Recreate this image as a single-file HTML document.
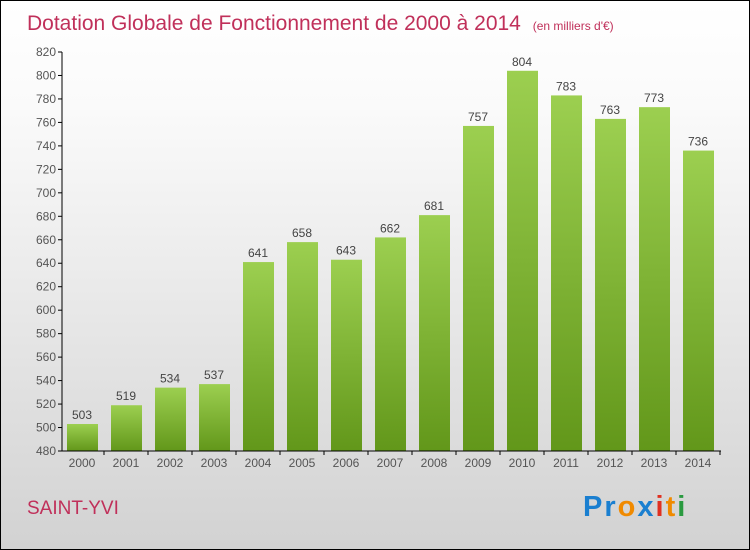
<!DOCTYPE html>
<html><head><meta charset="utf-8"><style>
body{margin:0}
#c{width:748px;height:548px;border:1px solid #000;background:linear-gradient(#fff,#fafafa 20%,#d2d2d2);position:relative;font-family:"Liberation Sans",sans-serif;overflow:hidden}
</style></head><body>
<div id="c">
<svg width="748" height="548" xmlns="http://www.w3.org/2000/svg" id="s">
<defs><linearGradient id="g" x1="0" y1="0" x2="0" y2="1"><stop offset="0" stop-color="#9ccf50"/><stop offset="1" stop-color="#62971a"/></linearGradient></defs>
<text x="26" y="29" font-size="21" fill="#c0305a">Dotation Globale de Fonctionnement de 2000 à 2014 <tspan font-size="12" dx="6">(en milliers d'€)</tspan></text>
<text x="26" y="513" font-size="19" fill="#c0305a">SAINT-YVI</text>
<g font-size="29" font-weight="bold" letter-spacing="2">
<text x="582" y="515"><tspan fill="#1a7fd0">Pr</tspan><tspan fill="#f08a00">o</tspan><tspan fill="#1a7fd0">x</tspan><tspan fill="#e03020">i</tspan><tspan fill="#f08a00">t</tspan><tspan fill="#2a9a40">i</tspan></text>
</g>
<g id="plot"></g>
</svg>
</div>
<script>
const years=["2000","2001","2002","2003","2004","2005","2006","2007","2008","2009","2010","2011","2012","2013","2014"];
const values=[503,519,534,537,641,658,643,662,681,757,804,783,763,773,736];
const yTicks=[480,500,520,540,560,580,600,620,640,660,680,700,720,740,760,780,800,820];
const NS="http://www.w3.org/2000/svg";
const g=document.getElementById('plot');
const y=v=>450-(v-480)*(399/340);
const x=i=>81+44*i;
function mk(t,a){const e=document.createElementNS(NS,t);for(const k in a)e.setAttribute(k,a[k]);g.appendChild(e);return e;}
yTicks.forEach(t=>{
 const l=mk('line',{x1:57,x2:61,y1:y(t),y2:y(t),stroke:'#000'});
 
 
 const tx=mk('text',{x:55,y:y(t)+4,'text-anchor':'end','font-size':12,fill:'#555'});tx.textContent=t;
 
 
});
values.forEach((v,i)=>{
 const r=mk('rect',{x:x(i)-15,y:y(v),width:31,height:450-y(v),fill:'url(#g)'});
 
 
 const t=mk('text',{x:x(i),y:y(v)-5,'text-anchor':'middle','font-size':12,fill:'#444'});t.textContent=v;
 
 
 const xl=mk('text',{x:x(i),y:466,'text-anchor':'middle','font-size':12,fill:'#555'});xl.textContent=years[i];
 
 
 const tk=mk('line',{x1:x(i)+22,x2:x(i)+22,y1:450,y2:454,stroke:'#000'});
 
 
});
const ya=mk('line',{x1:61,x2:61,y1:y(820),y2:450,stroke:'#000'});


const xa=mk('line',{x1:61,x2:720,y1:450,y2:450,stroke:'#000'});


</script>
</body></html>
